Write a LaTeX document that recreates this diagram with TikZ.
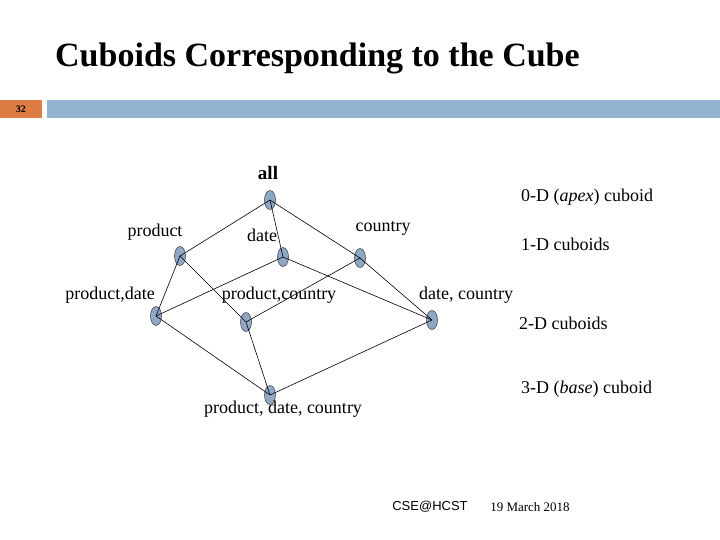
\documentclass[tikz,border=0pt]{standalone}
\usepackage{fontspec}
\setmainfont{Liberation Serif}
\newfontfamily\arialf{Liberation Sans}
\usetikzlibrary{shapes.geometric}
\definecolor{nodeblue}{RGB}{143,168,200}
\definecolor{barorange}{RGB}{221,124,68}
\definecolor{barblue}{RGB}{146,178,206}
\begin{document}
\begin{tikzpicture}[x=1pt,y=-1pt,
  vert/.style={ellipse,draw=black!70,fill=nodeblue,minimum width=11pt,minimum height=19pt,inner sep=0pt,line width=0.6pt},
  lbl/.style={font=\fontsize{18}{20}\selectfont,inner sep=0pt},
  edge/.style={line width=0.6pt}]
\useasboundingbox (0,0) rectangle (720,540);
\node[font=\fontsize{34}{36}\selectfont\bfseries,anchor=west,inner sep=0pt] (title) at (55,58) {Cuboids Corresponding to the Cube};
\fill[barorange] (0,100) rectangle (42,118);
\node[font=\fontsize{10}{10}\selectfont\bfseries] (num) at (21,109) {32};
\fill[barblue] (47,100) rectangle (720,118);
\node[vert] (all) at (270,200) {};
\node[vert] (p) at (180,256) {};
\node[vert] (d) at (283,257) {};
\node[vert] (c) at (360,258) {};
\node[vert] (pd) at (156,316) {};
\node[vert] (pc) at (246,322) {};
\node[vert] (dc) at (432,320) {};
\node[vert] (pdc) at (270,395) {};
\foreach \a/\b in {all/p,all/d,all/c,p/pd,p/pc,d/pd,d/dc,c/pc,c/dc,pd/pdc,pc/pdc,dc/pdc}
  \draw[edge] (\a.center) -- (\b.center);
\node[lbl,font=\fontsize{19}{20}\selectfont\bfseries] (lall) at (268,173) {all};
\node[lbl] (lp) at (155,232) {product};
\node[lbl] (ld) at (262,235) {date};
\node[lbl] (lc) at (383,228) {country};
\node[lbl] (lpd) at (110,295) {product,date};
\node[lbl] (lpc) at (279,295) {product,country};
\node[lbl] (ldc) at (466,295) {date, country};
\node[lbl] (lpdc) at (283,409) {product, date, country};
\node[lbl,anchor=west] (t0) at (521,197) {0-D (\textit{apex}) cuboid};
\node[lbl,anchor=west] (t1) at (521,244) {1-D cuboids};
\node[lbl,anchor=west] (t2) at (519,323) {2-D cuboids};
\node[lbl,anchor=west] (t3) at (521,389) {3-D (\textit{base}) cuboid};
\node[font=\arialf\fontsize{13}{13}\selectfont] (f1) at (430,507) {CSE@HCST};
\node[font=\fontsize{13}{13}\selectfont] (f2) at (530,507) {19 March 2018};
\end{tikzpicture}
\end{document}
